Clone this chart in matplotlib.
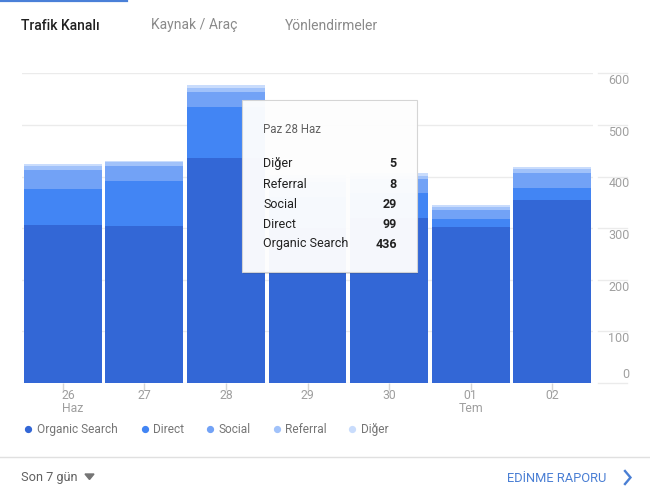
import matplotlib
matplotlib.use("Agg")
import matplotlib.pyplot as plt
import matplotlib.transforms as mtransforms
from matplotlib.lines import Line2D
from matplotlib.patches import Rectangle, Polygon

plt.rcParams['font.family'] = ['Roboto', 'DejaVu Sans']

# ---------------- data ----------------
dates = ['26\nHaz', '27', '28', '29', '30', '01\nTem', '02']
organic = [306, 304, 436, 300, 320, 303, 355]
direct = [70, 87, 99, 60, 48, 15, 23]
social = [37, 29, 29, 30, 27, 17, 28]
referral = [8, 8, 8, 8, 7, 6, 8]
diger = [3, 3, 5, 5, 5, 3, 4]
series_names = ['Organic Search', 'Direct', 'Social', 'Referral', 'Diğer']
y_ticks = [0, 100, 200, 300, 400, 500, 600]
tabs = ['Trafik Kanalı', 'Kaynak / Araç', 'Yönlendirmeler']
tooltip_title = 'Paz 28 Haz'
tooltip_index = 2
footer_left = 'Son 7 gün'
footer_right = 'EDİNME RAPORU'

# ---------------- styling ----------------
colors = ['#3367d6', '#4285f4', '#72a2f6', '#a1c2fa', '#c9dcfc']
W, H = 650, 497
fig = plt.figure(figsize=(W / 100, H / 100), dpi=100)
fig.patch.set_facecolor('white')

def fx(px):
    return px / W

def fy(py):
    return 1 - py / H

ax_left, ax_right, ax_top, ax_bot = 22, 593, 73.3, 383
ax = fig.add_axes([fx(ax_left), fy(ax_bot), (ax_right - ax_left) / W, (ax_bot - ax_top) / H])
ax.set_xlim(-0.5, len(dates) - 0.5)
ax.set_ylim(0, 600)
for s in ax.spines.values():
    s.set_visible(False)
ax.set_axisbelow(True)
ax.set_yticks(y_ticks)
ax.yaxis.grid(True, color='#ebebeb', lw=1)
ax.tick_params(axis='y', length=0, labelleft=False)
ax.set_xticks(range(len(dates)))
ax.set_xticklabels([])
ax.tick_params(axis='x', length=5, color='#d6d6d6', width=1)

# stacked bars
x = list(range(len(dates)))
bottom = [0] * len(dates)
stack = [organic, direct, social, referral, diger]
for vals, c, name in zip(stack, colors, series_names):
    ax.bar(x, vals, bottom=bottom, width=0.955, color=c, label=name, zorder=2, linewidth=0)
    bottom = [b + v for b, v in zip(bottom, vals)]

# y labels at right, with small grid segments
btf = mtransforms.blended_transform_factory(fig.transFigure, ax.transData)
for v in y_ticks:
    ax.plot([fx(598), fx(627)], [v, v], transform=btf, color='#ebebeb', lw=1, clip_on=False)
    off = -5.3 if v != 0 else 6.0
    ax.annotate(str(v), xy=(fx(629.5), v), xycoords=btf, xytext=(0, off),
                textcoords='offset points', ha='right', va='center',
                fontsize=9, color='#a0a0a0')

# x labels (first one clamped to the left edge, others centred)
for i, lab in enumerate(dates):
    if i == 0:
        ax.annotate(lab, xy=(i, 0), xycoords='data', xytext=(-0.8, -4.5),
                    textcoords='offset points', ha='left', va='top', multialignment='left',
                    fontsize=8.8, color='#9e9e9e', linespacing=0.95)
    else:
        ax.annotate(lab, xy=(i, 0), xycoords='data', xytext=(0, -4.5),
                    textcoords='offset points', ha='center', va='top', multialignment='center',
                    fontsize=8.8, color='#9e9e9e', linespacing=0.95)

# legend
legend_dot_x = [28, 144.5, 209.5, 276.5, 352]
for name, c, dx in zip(series_names, colors, legend_dot_x):
    fig.add_artist(Line2D([fx(dx)], [fy(429)], marker='o', markersize=4.2,
                          color=c, linestyle='none', transform=fig.transFigure))
    fig.text(fx(dx + 9), fy(433), name, fontsize=8.6, color='#757575',
             ha='left', va='baseline')

# tabs
tab_x = [21, 151, 285]
for j, (t, tx) in enumerate(zip(tabs, tab_x)):
    fig.text(fx(tx), fy(29.5), t, fontsize=10, ha='left', va='baseline',
             color='#212121' if j == 0 else '#8a8a8a',
             fontweight='medium' if j == 0 else 'normal')
fig.add_artist(Line2D([0, fx(127)], [fy(1), fy(1)], color='#4a80d8', lw=1.6,
                      transform=fig.transFigure))

# tooltip
tx0, ty0, tx1, ty1 = 242, 100, 417, 272
fig.add_artist(Rectangle((fx(tx0 + 1), fy(ty1 + 2)), (tx1 - tx0) / W, (ty1 - ty0) / H,
                         transform=fig.transFigure, facecolor='#000000', alpha=0.12,
                         edgecolor='none'))
fig.add_artist(Rectangle((fx(tx0), fy(ty1)), (tx1 - tx0) / W, (ty1 - ty0) / H,
                         transform=fig.transFigure, facecolor='white', alpha=0.96,
                         edgecolor='#d4d4d4', lw=0.8))
fig.text(fx(263), fy(133), tooltip_title, fontsize=8.3, color='#616161', ha='left', va='baseline')
rows = list(zip(series_names, [s[tooltip_index] for s in stack]))[::-1]
for k, (name, val) in enumerate(rows):
    yy = 167.5 + 20 * k
    fig.text(fx(263), fy(yy), name, fontsize=9, color='#212121', ha='left', va='baseline')
    fig.text(fx(397), fy(yy), str(val), fontsize=9, color='#212121', ha='right',
             va='baseline', fontweight='bold')

# footer
fig.add_artist(Line2D([0, 1], [fy(457), fy(457)], color='#e0e0e0', lw=1,
                      transform=fig.transFigure))
fig.text(fx(21), fy(481.5), footer_left, fontsize=9.2, color='#616161', ha='left', va='baseline')
fig.add_artist(Polygon([[fx(85), fy(474)], [fx(94), fy(474)], [fx(89.5), fy(479.5)]],
                       closed=True, transform=fig.transFigure, color='#757575'))
fig.text(fx(606), fy(481.5), footer_right, fontsize=9.3, color='#4a7fd4', ha='right', va='baseline')
fig.add_artist(Line2D([fx(625), fx(630.5), fx(625)], [fy(471), fy(477.5), fy(484)],
                      color='#4a7fd4', lw=1.7, transform=fig.transFigure,
                      solid_joinstyle='miter'))

fig.savefig('out.png', dpi=100)
